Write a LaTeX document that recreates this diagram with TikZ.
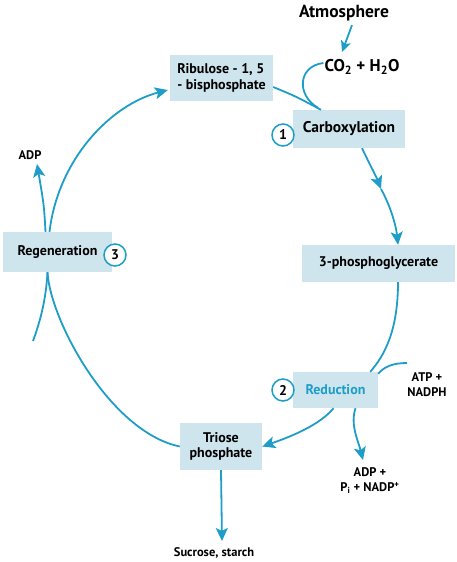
\documentclass[tikz,border=0pt]{standalone}
\usepackage{fontspec}
\setmainfont{PT Sans}
\usetikzlibrary{arrows.meta,calc}
\definecolor{cyc}{HTML}{1E9DC8}
\definecolor{boxfill}{HTML}{CFE5EE}
\tikzset{
 box/.style={fill=boxfill, inner sep=0pt, font=\bfseries\fontsize{14}{15.5}\selectfont, align=left},
 num/.style={circle, draw=cyc, line width=1.5pt, fill=white, minimum size=22pt, inner sep=0pt, font=\bfseries\fontsize{14}{15}\selectfont},
 flow/.style={draw=cyc, line width=1.8pt},
 arr/.style={flow, -{Stealth[length=13pt,width=12pt,inset=3pt]}},
 lbl/.style={font=\bfseries\fontsize{12.5}{15}\selectfont, align=center, inner sep=0pt}
}
\begin{document}
\begin{tikzpicture}[x=1pt,y=-1pt]
\useasboundingbox (0,0) rectangle (457,562);
% boxes
\node[box, minimum width=103pt, minimum height=46pt] (rib) at (221.5,78) {Ribulose - 1, 5\\- bisphosphate};
\node[box, minimum width=112pt, minimum height=38pt, font=\bfseries\fontsize{15.5}{17}\selectfont] (carb) at (349,129) {Carboxylation};
\node[box, minimum width=153pt, minimum height=37pt] (pg) at (378.5,263.5) {3-phosphoglycerate};
\node[box, minimum width=85pt, minimum height=36pt, text=cyc] (red) at (335.5,390) {Reduction};
\node[box, minimum width=82pt, minimum height=47pt, align=center] (tri) at (221,446.5) {Triose\\phosphate};
\node[box, minimum width=109pt, minimum height=40pt] (regen) at (57.5,252) {Regeneration};
% labels
\node[lbl, font=\bfseries\fontsize{17.5}{20}\selectfont] (atm) at (344,13) {Atmosphere};
\node[lbl, font=\bfseries\fontsize{17}{20}\selectfont] (co2) at (362,67) {CO\textsubscript{2} + H\textsubscript{2}O};
\node[lbl] (adp1) at (30,155) {ADP};
\node[lbl] (atp) at (427,385) {ATP +\\NADPH};
\node[lbl] (adp2) at (370,481) {ADP +\\P\textsubscript{i} + NADP\textsuperscript{+}};
\node[lbl] (suc) at (214,553) {Sucrose, starch};
% free-end coordinates
\coordinate (atmtip) at (342,52);
\coordinate (mid) at (381,189);
\coordinate (atpin) at (407,363);
\coordinate (adptip) at (363,460);
\coordinate (suctip) at (222,541);
\coordinate (stub) at (33,341);
\coordinate (adp1tip) at (37,164);
% connectors
\draw[arr] ($(regen.north)+(-8,0)$) .. controls (58,160) and (110,105) .. ($(rib.west)+(-2,12)$);
\draw[arr] ($(regen.north)+(-12,0)$) .. controls (44,205) .. (adp1tip);
\draw[flow] ($(rib.east)+(0,9)$) .. controls (295,96) .. ($(carb.north)+(-28,0)$);
\draw[flow] ($(co2.west)+(-1,-4)$) .. controls (298,66) and (296,95) .. ($(carb.north)+(-31,-2)$);
\draw[arr, -{Stealth[length=11pt,width=10pt,inset=2.5pt]}] ($(atm.south)+(8,4)$) -- (atmtip);
\draw[arr] ($(carb.south)+(13,0)$) .. controls (370,165) and (376,176) .. (mid);
\draw[arr] (mid) .. controls (390,205) and (396,225) .. ($(pg.north)+(19.5,0)$);
\draw[flow] ($(pg.south)+(19.5,0)$) .. controls (398,330) and (385,355) .. ($(red.north east)+(-8,0)$);
\draw[flow] (atpin) .. controls (392,363) and (384,367) .. ($(red.north east)+(0,2)$);
\draw[arr] ($(red.south)+(20,0)$) .. controls (350,425) and (358,440) .. (adptip);
\draw[arr] ($(red.south)+(-2,0)$) .. controls (320,425) and (290,437) .. (tri.east);
\draw[arr] (tri.south) -- (suctip);
\draw[flow] (tri.west) .. controls (110,432) and (50,320) .. ($(regen.south)+(-10,0)$);
\draw[flow] ($(regen.south)+(-10,0)$) .. controls (46,300) and (40,322) .. (stub);
% numbered circles
\node[num] (n1) at (283,135) {1};
\node[num] (n2) at (283,390) {2};
\node[num] (n3) at (115,255) {3};
\end{tikzpicture}
\end{document}
